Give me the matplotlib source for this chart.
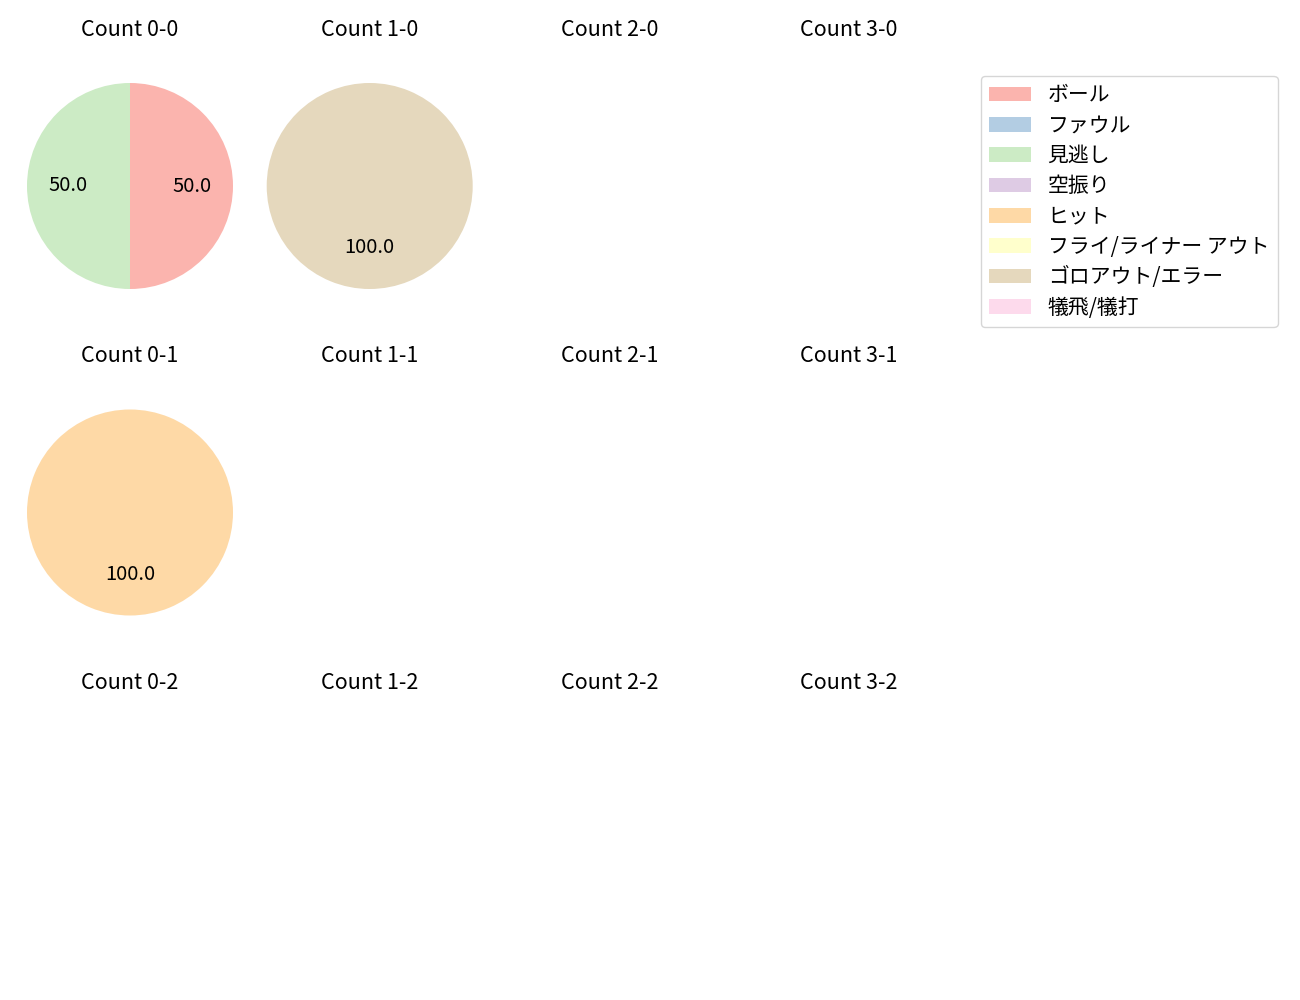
import matplotlib
matplotlib.use('Agg')
import matplotlib.pyplot as plt
from matplotlib.patches import Patch

plt.rcParams['font.family'] = ['Noto Sans CJK JP', 'DejaVu Sans']
plt.rcParams['font.size'] = 12

# 打球結果のカテゴリと色
categories = ['ボール', 'ファウル', '見逃し', '空振り', 'ヒット',
              'フライ/ライナー アウト', 'ゴロアウト/エラー', '犠飛/犠打']
colors = ['#fbb4ae', '#b3cde3', '#ccebc5', '#decbe4', '#fed9a6',
          '#ffffcc', '#e5d8bd', '#fddaec']

balls = [0, 1, 2, 3]
strikes = [0, 1, 2]

# カウントごとの件数 (カテゴリ順)
counts = {
    '0-0': [1, 0, 1, 0, 0, 0, 0, 0],
    '1-0': [0, 0, 0, 0, 0, 0, 1, 0],
    '0-1': [0, 0, 0, 0, 1, 0, 0, 0],
}

W, H = 1300, 1000
fig = plt.figure(figsize=(13, 10), dpi=100)

side = 257.5
for s in strikes:
    for b in balls:
        cx = 130 + 239.7 * b
        cy = 186 + 326.5 * s
        ax = fig.add_axes([(cx - side / 2) / W, 1 - (cy + side / 2) / H, side / W, side / H])
        key = f'{b}-{s}'
        ax.set_title(f'Count {key}', pad=15.5, fontsize=15.5)
        vals = counts.get(key)
        if vals is None or sum(vals) == 0:
            ax.axis('off')
            continue
        vv = [v for v in vals if v > 0]
        cc = [c for v, c in zip(vals, colors) if v > 0]
        ax.pie(vv, colors=cc, autopct='%.1f', startangle=90, counterclock=False,
               textprops={'fontsize': 14.5})

handles = [Patch(facecolor=c, label=l) for c, l in zip(colors, categories)]
fig.legend(handles=handles, loc='upper left', bbox_to_anchor=(981 / W, 1 - 76 / H),
           fontsize=15, labelspacing=0.4, handlelength=2.0, borderaxespad=0)

fig.savefig('out.png', dpi=100)
